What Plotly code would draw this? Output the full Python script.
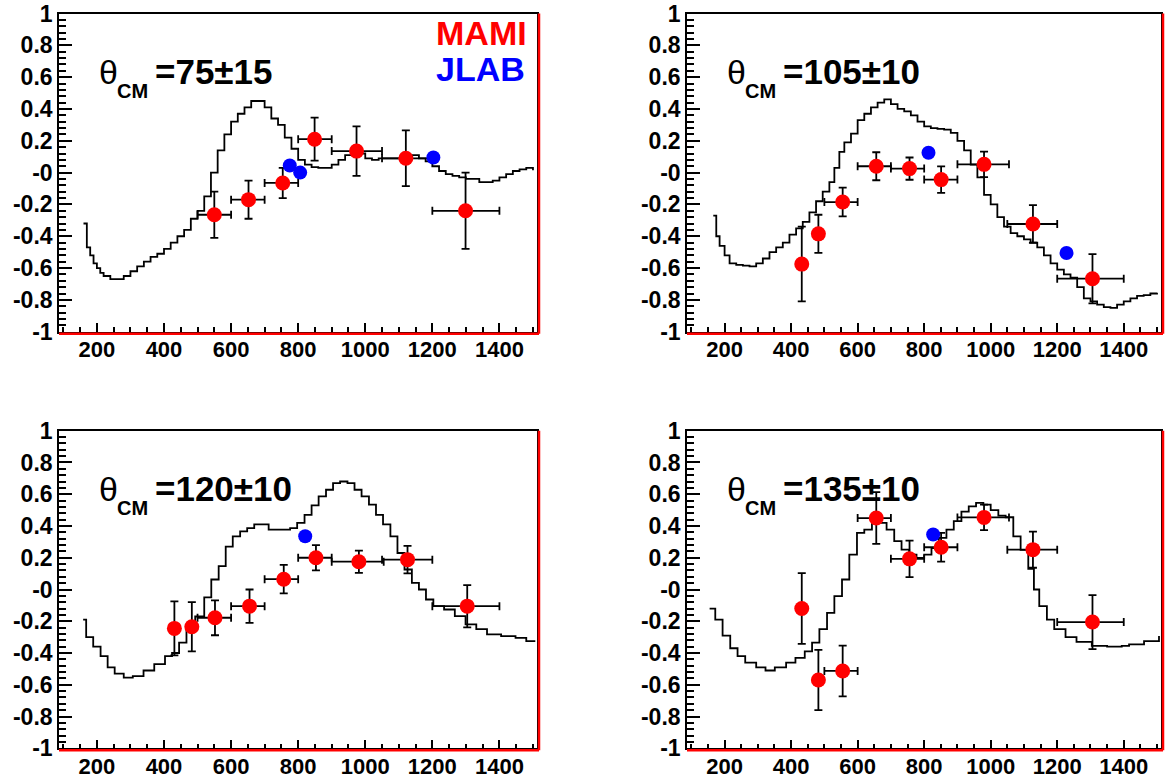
import plotly.graph_objects as go

# ---------------- data ----------------
titles = ["75\u00b115", "105\u00b110", "120\u00b110", "135\u00b110"]

# model curves (stepped histogram): bin low edge, value
curve1_x = [160, 170, 180, 190, 200, 210, 220, 240, 260, 280, 300, 320, 340, 360, 380, 400, 420, 440, 460, 480,
            500, 520, 540, 560, 580, 600, 620, 640, 660, 680, 700, 720, 740, 760, 780, 800, 820, 840, 860, 880,
            900, 920, 940, 960, 980, 1000, 1020, 1040, 1060, 1080, 1100, 1120, 1140, 1160, 1180, 1200, 1220, 1240,
            1260, 1280, 1300, 1320, 1340, 1360, 1380, 1400, 1420, 1440, 1460, 1480, 1500]
curve1_y = [-0.32, -0.47, -0.52, -0.57, -0.60, -0.63, -0.65, -0.67, -0.67, -0.65, -0.62, -0.59, -0.56, -0.53, -0.51,
            -0.48, -0.44, -0.40, -0.36, -0.29, -0.24, -0.15, 0.00, 0.14, 0.24, 0.32, 0.37, 0.41, 0.45, 0.45, 0.41,
            0.34, 0.30, 0.22, 0.15, 0.08, 0.05, 0.035, 0.03, 0.03, 0.05, 0.08, 0.11, 0.13, 0.12, 0.09, 0.08, 0.09,
            0.09, 0.09, 0.09, 0.10, 0.11, 0.09, 0.07, 0.04, 0.01, -0.01, -0.02, -0.03, -0.04, -0.04, -0.06, -0.06,
            -0.05, -0.03, -0.01, 0.01, 0.02, 0.03, 0.015]

curve2_x = [166, 175, 185, 200, 215, 235, 255, 275, 295, 315, 335, 355, 375, 395, 415, 435, 455, 475, 495, 515,
            530, 545, 560, 580, 600, 620, 640, 660, 680, 700, 720, 740, 760, 780, 800, 820, 840, 860, 880, 900,
            920, 940, 960, 980, 1000, 1020, 1040, 1060, 1080, 1100, 1120, 1140, 1160, 1180, 1200, 1220, 1240, 1260,
            1280, 1300, 1320, 1340, 1360, 1380, 1400, 1420, 1440, 1460, 1480, 1500]
curve2_y = [-0.27, -0.40, -0.46, -0.52, -0.57, -0.58, -0.585, -0.59, -0.57, -0.54, -0.50, -0.47, -0.44, -0.39,
            -0.35, -0.31, -0.25, -0.18, -0.12, -0.06, 0.03, 0.13, 0.19, 0.245, 0.33, 0.37, 0.41, 0.44, 0.46, 0.43,
            0.40, 0.385, 0.36, 0.32, 0.29, 0.28, 0.275, 0.27, 0.25, 0.20, 0.14, 0.05, -0.03, -0.14, -0.20, -0.28,
            -0.34, -0.38, -0.40, -0.42, -0.44, -0.47, -0.52, -0.57, -0.61, -0.64, -0.66, -0.72, -0.79, -0.81, -0.83,
            -0.845, -0.85, -0.83, -0.81, -0.79, -0.775, -0.77, -0.76, -0.755]

curve3_x = [159, 168, 189, 211, 232, 253, 280, 307, 339, 371, 403, 424, 445, 467, 493, 520, 541, 563, 584, 605,
            627, 648, 669, 691, 712, 733, 755, 776, 797, 819, 840, 861, 883, 904, 925, 947, 968, 989, 1011, 1032,
            1053, 1075, 1096, 1117, 1139, 1160, 1181, 1203, 1235, 1267, 1299, 1331, 1363, 1405, 1448, 1480, 1507]
curve3_y = [-0.19, -0.30, -0.36, -0.42, -0.49, -0.53, -0.555, -0.545, -0.51, -0.47, -0.42, -0.40, -0.335, -0.24,
            -0.17, -0.05, 0.063, 0.147, 0.27, 0.335, 0.366, 0.387, 0.41, 0.41, 0.377, 0.377, 0.377, 0.387, 0.42,
            0.47, 0.53, 0.586, 0.628, 0.67, 0.68, 0.67, 0.628, 0.586, 0.534, 0.47, 0.41, 0.335, 0.23, 0.126, 0.042,
            0.0, -0.063, -0.105, -0.126, -0.168, -0.22, -0.25, -0.283, -0.293, -0.304, -0.325, -0.325]

curve4_x = [155, 172, 194, 217, 239, 262, 295, 323, 351, 385, 413, 441, 463, 485, 508, 530, 553, 575, 598, 620,
            643, 665, 687, 710, 732, 755, 777, 800, 822, 844, 867, 889, 912, 934, 956, 978, 1000, 1023, 1045, 1068,
            1090, 1113, 1130, 1146, 1169, 1191, 1225, 1258, 1304, 1350, 1394, 1416, 1461, 1506]
curve4_y = [-0.12, -0.19, -0.29, -0.37, -0.42, -0.46, -0.49, -0.51, -0.49, -0.46, -0.43, -0.39, -0.335, -0.25,
            -0.147, -0.042, 0.063, 0.22, 0.356, 0.377, 0.42, 0.42, 0.377, 0.304, 0.251, 0.22, 0.199, 0.22, 0.26,
            0.325, 0.377, 0.43, 0.49, 0.524, 0.545, 0.534, 0.50, 0.465, 0.455, 0.335, 0.25, 0.13, 0.0, -0.105,
            -0.19, -0.25, -0.30, -0.33, -0.355, -0.36, -0.355, -0.345, -0.325, -0.293]

# MAMI points
mami1_x = [550, 652, 754, 849, 974, 1121, 1299]
mami1_y = [-0.265, -0.17, -0.065, 0.21, 0.135, 0.09, -0.24]
mami1_ey = [0.145, 0.12, 0.095, 0.135, 0.155, 0.175, 0.24]
mami1_xlo = [500, 600, 700, 800, 900, 1050, 1200]
mami1_xhi = [600, 700, 800, 900, 1050, 1200, 1400]

mami2_x = [432, 482, 555, 656, 756, 851, 980, 1127, 1306]
mami2_y = [-0.575, -0.385, -0.185, 0.04, 0.025, -0.044, 0.052, -0.323, -0.667]
mami2_ey = [0.235, 0.12, 0.09, 0.088, 0.07, 0.083, 0.08, 0.118, 0.155]

mami3_x = [431, 483, 552, 655, 757, 853, 981, 1126, 1304]
mami3_y = [-0.245, -0.235, -0.178, -0.105, 0.065, 0.2, 0.175, 0.188, -0.105]
mami3_ey = [0.17, 0.155, 0.11, 0.105, 0.09, 0.08, 0.07, 0.087, 0.133]

mami4_x = [432, 482, 555, 656, 756, 851, 980, 1127, 1306]
mami4_y = [-0.12, -0.57, -0.513, 0.45, 0.193, 0.266, 0.454, 0.251, -0.205]
mami4_ey = [0.223, 0.19, 0.16, 0.163, 0.115, 0.09, 0.08, 0.114, 0.17]

mami9_xlo = [420, 470, 500, 600, 700, 800, 900, 1050, 1200]
mami9_xhi = [445, 495, 600, 700, 800, 900, 1055, 1200, 1400]

# JLAB points
jlab1_x = [775, 806, 1203]
jlab1_y = [0.045, 0.0, 0.095]
jlab2_x = [813, 1228]
jlab2_y = [0.125, -0.505]
jlab3_x = [821]
jlab3_y = [0.335]
jlab4_x = [827]
jlab4_y = [0.346]

x_ticks = [200, 400, 600, 800, 1000, 1200, 1400]
x_ticktext = ["200", "400", "600", "800", "1000", "1200", "1400"]
y_ticks = [-1, -0.8, -0.6, -0.4, -0.2, 0, 0.2, 0.4, 0.6, 0.8, 1]
y_ticktext = ["-1", "-0.8", "-0.6", "-0.4", "-0.2", "-0", "0.2", "0.4", "0.6", "0.8", "1"]

# ---------------- layout geometry (pixels) ----------------
W, H = 1168, 780
cols = [(59, 537), (687, 1161)]
rows = [(13.5, 331.7), (430.7, 748.3)]
FONT = "Liberation Sans, Arial, Helvetica, sans-serif"

panels = [
    (curve1_x, curve1_y, mami1_x, mami1_y, mami1_ey, mami1_xlo, mami1_xhi, jlab1_x, jlab1_y),
    (curve2_x, curve2_y, mami2_x, mami2_y, mami2_ey, mami9_xlo, mami9_xhi, jlab2_x, jlab2_y),
    (curve3_x, curve3_y, mami3_x, mami3_y, mami3_ey, mami9_xlo, mami9_xhi, jlab3_x, jlab3_y),
    (curve4_x, curve4_y, mami4_x, mami4_y, mami4_ey, mami9_xlo, mami9_xhi, jlab4_x, jlab4_y),
]

fig = go.Figure()
shapes = []
annotations = []


def px(x):
    return x / W


def py(y):
    return 1 - y / H


for i, (cx, cy, mx, my, mey, mlo, mhi, jx, jy) in enumerate(panels):
    r, c = divmod(i, 2)
    L, R = cols[c]
    T, B = rows[r]
    n = "" if i == 0 else str(i + 1)
    xa, ya = "x" + n, "y" + n

    fig.add_trace(go.Scatter(x=cx, y=cy, mode="lines", line=dict(color="black", width=1.8, shape="hv"),
                             xaxis=xa, yaxis=ya, hoverinfo="skip"))
    fig.add_trace(go.Scatter(
        x=mx, y=my, mode="markers", xaxis=xa, yaxis=ya,
        marker=dict(color="#ff0000", size=15, line=dict(width=0)),
        error_y=dict(type="data", array=mey, color="black", thickness=1.8, width=4),
        error_x=dict(type="data", symmetric=False,
                     array=[h - x for h, x in zip(mhi, mx)],
                     arrayminus=[x - l for l, x in zip(mlo, mx)],
                     color="black", thickness=1.8, width=4),
    ))
    fig.add_trace(go.Scatter(x=jx, y=jy, mode="markers", xaxis=xa, yaxis=ya,
                             marker=dict(color="#0000ff", size=14, line=dict(width=0))))

    axis_common = dict(showline=True, linecolor="black", linewidth=1.6, mirror=True, showgrid=False,
                       zeroline=False, ticks="inside", tickcolor="black", tickwidth=1.5, automargin=False)
    fig.layout["xaxis" + n] = dict(
        domain=[px(L), px(R)], range=[87, 1512], anchor=ya,
        tickvals=x_ticks, ticktext=x_ticktext, ticklen=9, ticklabelstandoff=-3,
        tickfont=dict(family=FONT, size=22, color="black", weight="bold"),
        minor=dict(dtick=50, tick0=0, ticks="inside", ticklen=5, tickwidth=1.5, tickcolor="black"),
        **axis_common)
    fig.layout["yaxis" + n] = dict(
        domain=[py(B), py(T)], range=[-1, 1], anchor=xa,
        tickvals=y_ticks, ticktext=y_ticktext, ticklen=13,
        tickfont=dict(family=FONT, size=23, color="black", weight="bold"),
        minor=dict(dtick=0.04, tick0=0, ticks="inside", ticklen=7, tickwidth=1.5, tickcolor="black"),
        **axis_common)

    # red frame shadow (right and bottom)
    shapes.append(dict(type="line", xref="paper", yref="paper", x0=px(R + 2), x1=px(R + 2),
                       y0=py(T), y1=py(B + 2), line=dict(color="#ff0000", width=2.5)))
    shapes.append(dict(type="line", xref="paper", yref="paper", x0=px(L), x1=px(R + 2),
                       y0=py(B + 2), y1=py(B + 2), line=dict(color="#ff0000", width=2.5)))

    # panel label
    cyy = T + 58
    annotations.append(dict(text="\u03b8", xref="paper", yref="paper", x=px(L + 38), y=py(cyy),
                            xanchor="left", yanchor="middle", showarrow=False,
                            font=dict(family=FONT, size=34, color="black")))
    annotations.append(dict(text="CM", xref="paper", yref="paper", x=px(L + 56), y=py(cyy + 19),
                            xanchor="left", yanchor="middle", showarrow=False,
                            font=dict(family=FONT, size=20, color="black", weight="bold")))
    annotations.append(dict(text="=" + titles[i], xref="paper", yref="paper", x=px(L + 94), y=py(cyy),
                            xanchor="left", yanchor="middle", showarrow=False,
                            font=dict(family=FONT, size=35, color="black", weight="bold")))

# legend-like labels in first panel
annotations.append(dict(text="MAMI", xref="paper", yref="paper", x=px(529), y=py(33.5),
                        xanchor="right", yanchor="middle", showarrow=False,
                        font=dict(family=FONT, size=34, color="#ff0000", weight="bold")))
annotations.append(dict(text="JLAB", xref="paper", yref="paper", x=px(527), y=py(68.5),
                        xanchor="right", yanchor="middle", showarrow=False,
                        font=dict(family=FONT, size=34, color="#0000ff", weight="bold")))

fig.update_layout(width=W, height=H, autosize=False, margin=dict(l=0, r=0, t=0, b=0, pad=0, autoexpand=False),
                  paper_bgcolor="white", plot_bgcolor="white", showlegend=False,
                  shapes=shapes, annotations=annotations)

fig.write_html("out.html", config={"displayModeBar": False, "responsive": False},
               post_script="document.body.style.margin='0';document.body.style.padding='0';"
                           "document.body.style.overflow='hidden';")
